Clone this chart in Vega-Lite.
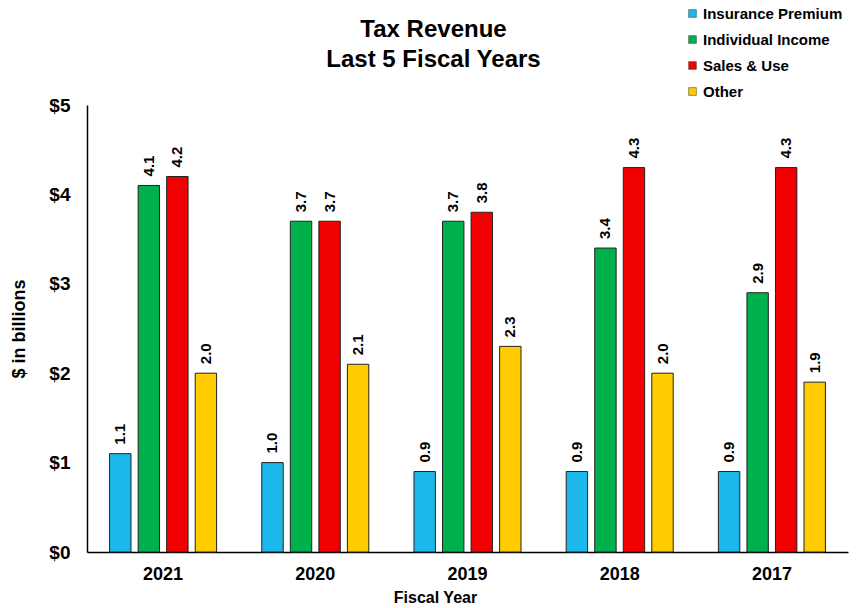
{
  "$schema": "https://vega.github.io/schema/vega-lite/v6.json",
  "autosize": "none",
  "width": 761,
  "height": 447,
  "padding": {"left": 87, "top": 105, "right": 16, "bottom": 56},
  "background": "white",
  "config": {
    "font": "Liberation Sans",
    "view": {"stroke": null}
  },
  "title": {
    "text": ["Tax Revenue", "Last 5 Fiscal Years"],
    "anchor": "middle",
    "frame": "group",
    "dx": -34,
    "offset": -66,
    "fontSize": 24,
    "fontWeight": "bold",
    "lineHeight": 30,
    "color": "#000000",
    "font": "Liberation Sans"
  },
  "data": {
    "values": [
      {"year": "2021", "type": "Insurance Premium", "value": 1.1},
      {"year": "2021", "type": "Individual Income", "value": 4.1},
      {"year": "2021", "type": "Sales & Use", "value": 4.2},
      {"year": "2021", "type": "Other", "value": 2.0},
      {"year": "2020", "type": "Insurance Premium", "value": 1.0},
      {"year": "2020", "type": "Individual Income", "value": 3.7},
      {"year": "2020", "type": "Sales & Use", "value": 3.7},
      {"year": "2020", "type": "Other", "value": 2.1},
      {"year": "2019", "type": "Insurance Premium", "value": 0.9},
      {"year": "2019", "type": "Individual Income", "value": 3.7},
      {"year": "2019", "type": "Sales & Use", "value": 3.8},
      {"year": "2019", "type": "Other", "value": 2.3},
      {"year": "2018", "type": "Insurance Premium", "value": 0.9},
      {"year": "2018", "type": "Individual Income", "value": 3.4},
      {"year": "2018", "type": "Sales & Use", "value": 4.3},
      {"year": "2018", "type": "Other", "value": 2.0},
      {"year": "2017", "type": "Insurance Premium", "value": 0.9},
      {"year": "2017", "type": "Individual Income", "value": 2.9},
      {"year": "2017", "type": "Sales & Use", "value": 4.3},
      {"year": "2017", "type": "Other", "value": 1.9}
    ]
  },
  "encoding": {
    "x": {
      "field": "year",
      "type": "nominal",
      "sort": ["2021", "2020", "2019", "2018", "2017"],
      "scale": {"paddingInner": 0.25, "paddingOuter": 0.125},
      "axis": {
        "title": "Fiscal Year",
        "titleFontSize": 16,
        "titleFontWeight": "bold",
        "titleColor": "#000000",
        "titlePadding": 6,
        "titleX": 348,
        "labelAngle": 0,
        "labelFontSize": 18,
        "labelFontWeight": "bold",
        "labelColor": "#000000",
        "labelPadding": 13,
        "ticks": false,
        "domainColor": "#000000",
        "domainWidth": 1.5
      }
    },
    "xOffset": {
      "field": "type",
      "type": "nominal",
      "sort": ["Insurance Premium", "Individual Income", "Sales & Use", "Other"],
      "scale": {"paddingInner": 0.25, "paddingOuter": 0.125}
    },
    "y": {
      "field": "value",
      "type": "quantitative",
      "scale": {"domain": [0, 5]},
      "axis": {
        "title": "$ in billions",
        "titleFontSize": 18,
        "titleFontWeight": "bold",
        "titleColor": "#000000",
        "titlePadding": 20,
        "values": [0, 1, 2, 3, 4, 5],
        "labelExpr": "'$' + datum.value",
        "labelFontSize": 19,
        "labelFontWeight": "bold",
        "labelColor": "#000000",
        "labelPadding": 17,
        "ticks": false,
        "grid": false,
        "domainColor": "#000000",
        "domainWidth": 1.5
      }
    }
  },
  "layer": [
    {
      "mark": {"type": "bar", "stroke": "#222222", "strokeWidth": 1},
      "encoding": {
        "color": {
          "field": "type",
          "type": "nominal",
          "sort": ["Insurance Premium", "Individual Income", "Sales & Use", "Other"],
          "scale": {
            "domain": ["Insurance Premium", "Individual Income", "Sales & Use", "Other"],
            "range": ["#1CB8EC", "#00B04C", "#F00000", "#FFCC00"]
          },
          "legend": {
            "title": null,
            "orient": "none",
            "legendX": 598,
            "legendY": -99,
            "symbolType": "square",
            "symbolSize": 60,
            "symbolStrokeColor": "#333333",
            "symbolStrokeWidth": 0.5,
            "labelFontSize": 15,
            "labelFontWeight": "bold",
            "labelColor": "#000000",
            "labelOffset": 3,
            "rowPadding": 10
          }
        }
      }
    },
    {
      "mark": {
        "type": "text",
        "angle": 270,
        "align": "left",
        "baseline": "middle",
        "dx": 9,
        "fontSize": 15,
        "fontWeight": "bold",
        "color": "#000000"
      },
      "encoding": {
        "text": {"field": "value", "type": "quantitative", "format": ".1f"}
      }
    }
  ]
}
